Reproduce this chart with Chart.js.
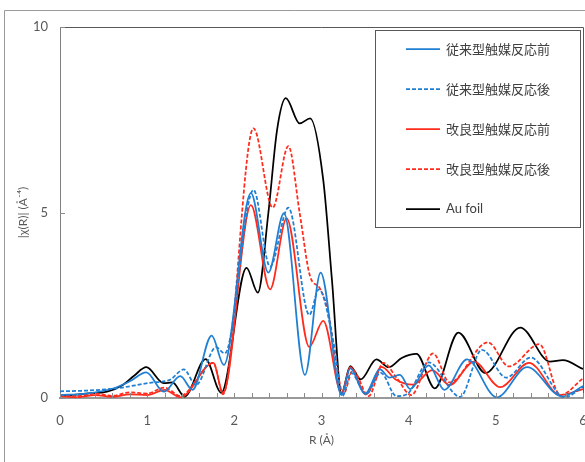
<!DOCTYPE html>
<html>
<head>
<meta charset="utf-8">
<script src="https://cdn.jsdelivr.net/npm/chart.js@4"></script>
<style>
  body { margin: 0; background: #fff; }
  canvas { display: block; }
</style>
</head>
<body>
<canvas id="xafsCanvas" width="585" height="462"></canvas>
<script>
// series labels (legend order)
var seriesLabels = ["従来型触媒反応前", "従来型触媒反応後", "改良型触媒反応前", "改良型触媒反応後", "Au foil"];

// tick labels
var xTickLabels = [0, 1, 2, 3, 4, 5, 6];
var yTickLabels = [0, 5, 10];

// 従来型触媒反応前 (blue solid)
var rBlueBefore = [0, 0.3, 0.6, 0.8, 0.99, 1.19, 1.38, 1.52, 1.74, 1.88, 2.19, 2.39, 2.57, 2.81, 2.99, 3.23, 3.33, 3.50, 3.67, 3.78, 3.90, 4.02, 4.23, 4.41, 4.67, 5.01, 5.36, 5.76, 6.0];
var vBlueBefore = [0.08, 0.12, 0.25, 0.45, 0.69, 0.17, 0.59, 0.22, 1.68, 0.89, 5.52, 3.38, 4.98, 0.62, 3.38, 0.08, 0.80, 0.11, 0.77, 0.55, 0.62, 0.24, 0.88, 0.22, 1.04, 0.02, 0.83, 0.04, 0.32];

// 従来型触媒反応後 (blue dashed)
var rBlueAfter = [0, 0.3, 0.65, 1.03, 1.26, 1.42, 1.56, 1.79, 1.89, 2.22, 2.41, 2.62, 2.86, 2.97, 3.14, 3.24, 3.34, 3.51, 3.68, 3.86, 3.98, 4.23, 4.59, 4.84, 5.12, 5.40, 5.79, 6.0];
var vBlueAfter = [0.18, 0.20, 0.26, 0.41, 0.49, 0.77, 0.35, 1.37, 1.20, 5.61, 3.54, 5.13, 2.24, 2.93, 1.47, 0.05, 0.68, 0.10, 0.68, 0.05, 0.10, 0.96, 0.03, 1.30, 0.55, 1.09, 0.02, 0.30];

// 改良型触媒反応前 (red solid)
var rRedBefore = [0, 0.2, 0.4, 0.6, 0.8, 1.0, 1.2, 1.38, 1.76, 1.87, 2.19, 2.41, 2.60, 2.86, 3.02, 3.23, 3.33, 3.51, 3.69, 3.85, 4.05, 4.27, 4.47, 4.75, 5.05, 5.38, 5.74, 6.0];
var vRedBefore = [0.05, 0.02, 0.08, 0.03, 0.10, 0.08, 0.22, 0.02, 0.95, 0.13, 5.20, 2.93, 4.84, 1.38, 2.08, 0.13, 0.83, 0.10, 0.84, 0.50, 0.36, 0.75, 0.35, 0.98, 0.29, 0.95, 0.08, 0.24];

// 改良型触媒反応後 (red dashed)
var rRedAfter = [0, 0.2, 0.4, 0.6, 0.8, 1.0, 1.2, 1.38, 1.76, 1.87, 2.22, 2.44, 2.62, 2.75, 2.87, 2.98, 3.08, 3.17, 3.25, 3.36, 3.54, 3.71, 3.86, 4.03, 4.28, 4.47, 4.91, 5.15, 5.50, 5.74, 6.0];
var vRedAfter = [0.08, 0.05, 0.12, 0.06, 0.15, 0.12, 0.28, 0.06, 0.95, 0.10, 7.27, 5.13, 6.79, 4.98, 3.27, 2.96, 2.28, 0.93, 0.10, 0.75, 0.05, 0.95, 0.55, 0.08, 1.20, 0.42, 1.50, 0.85, 1.45, 0.08, 0.53];

// Au foil (black)
var rAu = [0, 0.3, 0.54, 0.72, 0.85, 0.99, 1.19, 1.29, 1.43, 1.67, 1.85, 2.14, 2.27, 2.39, 2.49, 2.59, 2.75, 2.87, 3.02, 3.12, 3.23, 3.33, 3.45, 3.63, 3.77, 3.92, 4.09, 4.30, 4.57, 4.88, 5.28, 5.62, 5.77, 6.0];
var vAu = [0.05, 0.12, 0.17, 0.35, 0.60, 0.83, 0.40, 0.42, 0.04, 1.05, 0.14, 3.51, 2.84, 4.98, 7.22, 8.08, 7.40, 7.54, 5.88, 3.18, 0.13, 0.86, 0.50, 1.04, 0.83, 1.08, 1.19, 0.26, 1.76, 0.67, 1.90, 0.98, 1.02, 0.78];

function toPoints(rs, vs) {
    var pts = [];
    for (var i = 0; i < rs.length; i++) pts.push({x: rs[i], y: vs[i]});
    return pts;
}

var BLUE = "#1f7fd2";
var RED = "#ff2b1c";
var DASH = [4, 2];

// frame, plot border, inside ticks and the boxed legend
var decorPlugin = {
    id: "decor",
    afterDraw: function(chart) {
        var ctx = chart.ctx;
        var a = chart.chartArea;
        var xs = chart.scales.x, ys = chart.scales.y;
        ctx.save();

        // outer chart frame
        ctx.strokeStyle = "#9a9a9a";
        ctx.lineWidth = 1;
        ctx.beginPath();
        ctx.moveTo(4.5, 462); ctx.lineTo(4.5, 10.5); ctx.lineTo(585, 10.5);
        ctx.stroke();

        // plot border top/right
        ctx.strokeStyle = "#595959";
        ctx.beginPath();
        ctx.moveTo(a.left, a.top + 0.5); ctx.lineTo(a.right + 0.5, a.top + 0.5); ctx.lineTo(a.right + 0.5, a.bottom);
        ctx.stroke();

        // minor ticks on x (inside)
        ctx.strokeStyle = "#8c8c8c";
        ctx.beginPath();
        for (var i = 0; i <= 30; i++) {
            var px = Math.round(xs.getPixelForValue(i * 0.2)) + 0.5;
            ctx.moveTo(px, a.bottom); ctx.lineTo(px, a.bottom - 5);
        }
        yTickLabels.forEach(function(v) {
            var py = Math.round(ys.getPixelForValue(v)) + 0.5;
            ctx.moveTo(a.left, py); ctx.lineTo(a.left + 5, py);
        });
        ctx.stroke();

        // legend box
        var bx = 375.5, by = 30.5, bw = 205, bh = 197;
        ctx.fillStyle = "#fff";
        ctx.fillRect(bx, by, bw, bh);
        ctx.strokeStyle = "#595959";
        ctx.strokeRect(bx, by, bw, bh);
        chart.data.datasets.forEach(function(ds, k) {
            var y = 49 + k * 40;
            ctx.strokeStyle = ds.borderColor;
            ctx.lineWidth = 1.75;
            ctx.setLineDash(ds.borderDash || []);
            ctx.beginPath();
            ctx.moveTo(406, y); ctx.lineTo(440, y);
            ctx.stroke();
            ctx.setLineDash([]);
            ctx.fillStyle = "#404040";
            ctx.textBaseline = "middle";
            ctx.font = k < 4 ? '13px "Noto Sans CJK JP"' : '13px Lato';
            ctx.fillText(ds.label, 446, y);
        });
        ctx.restore();
    }
};

new Chart(document.getElementById("xafsCanvas"), {
    type: "line",
    data: {
        datasets: [
            {label: seriesLabels[0], data: toPoints(rBlueBefore, vBlueBefore), borderColor: BLUE},
            {label: seriesLabels[1], data: toPoints(rBlueAfter, vBlueAfter), borderColor: BLUE, borderDash: DASH},
            {label: seriesLabels[2], data: toPoints(rRedBefore, vRedBefore), borderColor: RED},
            {label: seriesLabels[3], data: toPoints(rRedAfter, vRedAfter), borderColor: RED, borderDash: DASH},
            {label: seriesLabels[4], data: toPoints(rAu, vAu), borderColor: "#000000"}
        ]
    },
    options: {
        responsive: false,
        animation: false,
        layout: {padding: {left: 0, top: 27, right: 2, bottom: 0}},
        elements: {
            point: {radius: 0},
            line: {borderWidth: 1.75, cubicInterpolationMode: "monotone", fill: false}
        },
        plugins: {legend: {display: false}, tooltip: {enabled: false}},
        scales: {
            x: {
                type: "linear", min: 0, max: 6,
                afterFit: function(s) { s.height = 64; s.paddingLeft = 0; s.paddingRight = 0; },
                afterBuildTicks: function(s) { s.ticks = xTickLabels.map(function(v) { return {value: v}; }); },
                grid: {display: false, drawTicks: false},
                border: {color: "#999999", width: 2},
                ticks: {color: "#595959", padding: 15, maxRotation: 0, font: {family: "Lato", size: 13}},
                title: {display: true, text: "R (Å)", color: "#595959", padding: {top: 0, bottom: 15}, font: {family: "Lato", size: 12}}
            },
            y: {
                min: 0, max: 10,
                afterFit: function(s) { s.width = 60; },
                afterBuildTicks: function(s) { s.ticks = yTickLabels.map(function(v) { return {value: v}; }); },
                grid: {display: false, drawTicks: false},
                border: {color: "#808080", width: 1},
                ticks: {color: "#595959", padding: 12, font: {family: "Lato", size: 13}},
                title: {display: true, text: "|χ(R)| (Å⁻⁴)", color: "#595959", padding: {top: 16, bottom: 0}, font: {family: "Lato", size: 12}}
            }
        }
    },
    plugins: [decorPlugin]
});
</script>
</body>
</html>
